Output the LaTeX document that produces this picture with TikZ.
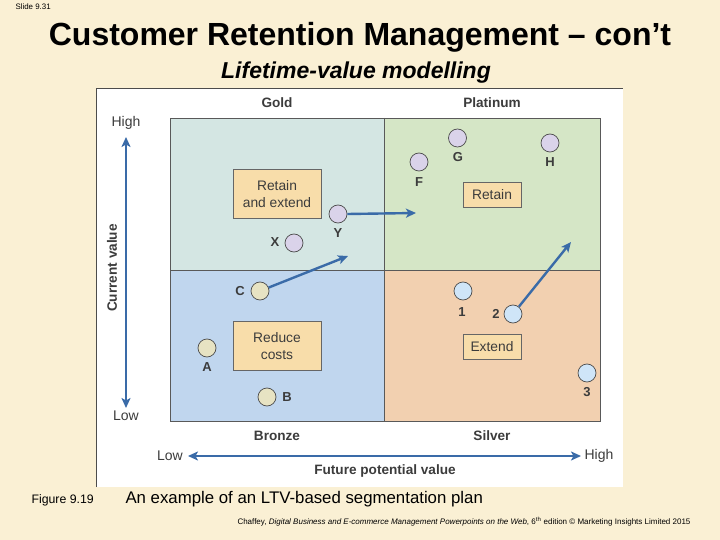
\documentclass[tikz,border=0pt]{standalone}
\usepackage{fontspec}
\setmainfont{Liberation Sans}
\usetikzlibrary{arrows.meta}
\definecolor{bgcream}{HTML}{FAF0D4}
\definecolor{goldq}{HTML}{D4E6E3}
\definecolor{platq}{HTML}{D5E6C6}
\definecolor{bronq}{HTML}{C0D6EE}
\definecolor{silvq}{HTML}{F2D0B0}
\definecolor{boxfill}{HTML}{F8DDAA}
\definecolor{purp}{HTML}{DAD3EA}
\definecolor{khaki}{HTML}{E7E3C3}
\definecolor{lblue}{HTML}{CFE5F8}
\definecolor{arrblue}{HTML}{3A6BA8}
\definecolor{txtgray}{HTML}{3C3C3C}
\begin{document}
\begin{tikzpicture}[x=1pt,y=-1pt,
  fs/.style={font=\fontsize{#1}{#1}\selectfont},
  qlabel/.style={font=\fontsize{13.6}{16}\bfseries\selectfont, text=txtgray},
  axlabel/.style={font=\fontsize{14}{16}\selectfont, text=txtgray},
  actbox/.style={draw=gray!80!black, line width=0.6pt, fill=boxfill, font=\fontsize{13.8}{17}\selectfont, text=txtgray, align=center, inner sep=0pt},
  cust/.style={circle, draw=gray!60!black, line width=0.7pt, minimum size=18pt, inner sep=0pt},
  clab/.style={font=\fontsize{13}{15}\bfseries\selectfont, text=txtgray},
  arr/.style={draw=arrblue, line width=2.4pt, -{Stealth[length=10pt,width=9pt,inset=2.5pt]}},
  darr/.style={draw=arrblue, line width=2.2pt, {Stealth[length=10pt,width=9pt,inset=2.5pt]}-{Stealth[length=10pt,width=9pt,inset=2.5pt]}},
  quad/.style={draw=gray!70!black, line width=0.6pt}
]
\useasboundingbox (0,0) rectangle (720,540);
\fill[bgcream] (0,0) rectangle (720,540);

% headings
\node[anchor=west, fs=7.9] (slide) at (12,7) {Slide 9.31};
\node[font=\fontsize{32}{36}\bfseries\selectfont] (title) at (360,37) {Customer Retention Management – con’t};
\node[font=\fontsize{23}{27}\bfseries\itshape\selectfont] (sub) at (356,73) {Lifetime-value modelling};

% white panel
\fill[white] (96,88) rectangle (623,487);
\draw[gray!60!black, line width=0.8pt] (96,487) -- (96,88) -- (623,88);

% quadrants
\fill[goldq] (170,118) rectangle (384,270);
\fill[platq] (384,118) rectangle (600,270);
\fill[bronq] (170,270) rectangle (384,421);
\fill[silvq] (384,270) rectangle (600,421);
\draw[quad] (170,118) rectangle (600,421);
\draw[quad] (384,118) -- (384,421);
\draw[quad] (170,270) -- (600,270);

% quadrant labels
\node[qlabel] (gold) at (277,103) {Gold};
\node[qlabel] (plat) at (492,103) {Platinum};
\node[qlabel] (bronze) at (277,436) {Bronze};
\node[qlabel] (silver) at (492,436) {Silver};

% action boxes
\node[actbox, minimum width=88pt, minimum height=49pt] (retext) at (277,194) {Retain\\and extend};
\node[actbox, minimum width=58pt, minimum height=25pt] (retain) at (492,195) {Retain};
\node[actbox, minimum width=88pt, minimum height=49pt] (reduce) at (277,346) {Reduce\\costs};
\node[actbox, minimum width=58pt, minimum height=25pt] (extend) at (492,347) {Extend};

% customers
\node[cust, fill=purp] (F) at (419,162) {};
\node[clab] (Fl) at (419,182) {F};
\node[cust, fill=purp] (G) at (457.5,138) {};
\node[clab] (Gl) at (458,157) {G};
\node[cust, fill=purp] (H) at (550,143) {};
\node[clab] (Hl) at (550,162) {H};
\node[cust, fill=purp] (Y) at (338,214) {};
\node[clab] (Yl) at (338,233) {Y};
\node[cust, fill=purp] (X) at (294,243) {};
\node[clab] (Xl) at (275,242) {X};
\node[cust, fill=khaki] (C) at (260,291) {};
\node[clab] (Cl) at (240,291) {C};
\node[cust, fill=khaki] (A) at (207,348) {};
\node[clab] (Al) at (207,367) {A};
\node[cust, fill=khaki] (B) at (267,397) {};
\node[clab] (Bl) at (287,397) {B};
\node[cust, fill=lblue] (n1) at (463,291) {};
\node[clab] (n1l) at (462,312) {1};
\node[cust, fill=lblue] (n2) at (513,314) {};
\node[clab] (n2l) at (496,314) {2};
\node[cust, fill=lblue] (n3) at (587,373) {};
\node[clab] (n3l) at (587,392) {3};

% movement arrows
\coordinate (Yend) at (416,213);
\coordinate (Cend) at (348,256);
\coordinate (Nend) at (571,242);
\draw[arr] (Y.east) -- (Yend);
\draw[arr] (C) -- (Cend);
\draw[arr] (n2) -- (Nend);

% axes
\coordinate (vtop) at (126,137);
\coordinate (vbot) at (126,408);
\draw[darr] (vtop) -- (vbot);
\node[axlabel] (vhigh) at (126,123) {High};
\node[axlabel] (vlow) at (126,416) {Low};
\node[qlabel, rotate=90] (cv) at (112,268) {Current value};

\coordinate (hleft) at (188,456);
\coordinate (hright) at (581,456);
\draw[darr] (hleft) -- (hright);
\node[axlabel] (hlow) at (170,456) {Low};
\node[axlabel] (hhigh) at (599,456) {High};
\node[qlabel] (fpv) at (385,471) {Future potential value};

% captions
\node[anchor=west, fs=12.3] (fig) at (28,500) {Figure 9.19};
\node[anchor=west, fs=16.8] (cap) at (122,499) {An example of an LTV-based segmentation plan};
\node[anchor=east, font=\fontsize{8}{9}\selectfont] (credit) at (694,522) {Chaffey, \textit{Digital Business and E-commerce Management Powerpoints on the Web}, 6\textsuperscript{th} edition © Marketing Insights Limited 2015};
\end{tikzpicture}
\end{document}
